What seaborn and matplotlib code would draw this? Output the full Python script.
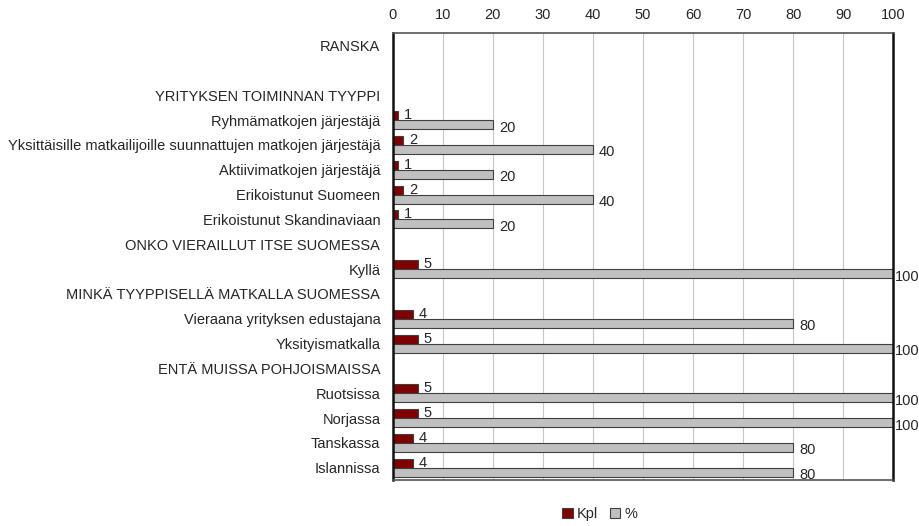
import numpy as np
import pandas as pd
import matplotlib
matplotlib.use("Agg")
import matplotlib.pyplot as plt
import seaborn as sns

categories = [
    "RANSKA", " ", "YRITYKSEN TOIMINNAN TYYPPI",
    "Ryhmämatkojen järjestäjä",
    "Yksittäisille matkailijoille suunnattujen matkojen järjestäjä",
    "Aktiivimatkojen järjestäjä", "Erikoistunut Suomeen",
    "Erikoistunut Skandinaviaan", "ONKO VIERAILLUT ITSE SUOMESSA", "Kyllä",
    "MINKÄ TYYPPISELLÄ MATKALLA SUOMESSA", "Vieraana yrityksen edustajana",
    "Yksityismatkalla", "ENTÄ MUISSA POHJOISMAISSA", "Ruotsissa", "Norjassa",
    "Tanskassa", "Islannissa",
]
kpl = [np.nan, np.nan, np.nan, 1, 2, 1, 2, 1, np.nan, 5, np.nan, 4, 5, np.nan, 5, 5, 4, 4]
pct = [np.nan, np.nan, np.nan, 20, 40, 20, 40, 20, np.nan, 100, np.nan, 80, 100, np.nan, 100, 100, 80, 80]
x_ticks = list(range(0, 101, 10))

df = pd.concat([
    pd.DataFrame({"cat": categories, "value": kpl, "series": "Kpl"}),
    pd.DataFrame({"cat": categories, "value": pct, "series": "%"}),
], ignore_index=True)

sns.set_style("white")
plt.rcParams["font.family"] = ["Liberation Sans", "DejaVu Sans"]
fs = 10.5
plt.rcParams["font.size"] = fs
txt = "#262626"

fig = plt.figure(figsize=(9.2, 5.26), dpi=100)
ax = fig.add_axes([0.427, 0.087, 0.544, 0.85])

sns.barplot(data=df, y="cat", x="value", hue="series", order=categories,
            hue_order=["Kpl", "%"], palette={"Kpl": "#800000", "%": "#C0C0C0"},
            orient="h", width=0.72, dodge=True, gap=0, saturation=1,
            edgecolor="#404040", linewidth=0.8, ax=ax, legend=True)

# number labels
for i, (k, p) in enumerate(zip(kpl, pct)):
    if not np.isnan(k):
        ax.text(k + 1.2, i - 0.2, f"{k:g}", va="center", ha="left",
                fontsize=fs, color=txt, clip_on=False)
    if not np.isnan(p):
        off = 0.3 if p >= 100 else 1.2
        ax.text(p + off, i + 0.3, f"{p:g}", va="center", ha="left",
                fontsize=fs, color=txt, clip_on=False)

ax.set_xlim(0, 100)
ax.set_ylim(len(categories) - 0.5, -0.5)
ax.set_xticks(x_ticks)
ax.xaxis.tick_top()
ax.tick_params(axis="x", length=0, pad=8, labelsize=fs, labelcolor=txt)
ax.tick_params(axis="y", length=0, pad=9, labelsize=fs, labelcolor=txt)
ax.set_xlabel("")
ax.set_ylabel("")
ax.grid(axis="x", color="#C8C8C8", linewidth=0.8)
ax.set_axisbelow(True)
for side in ["left", "right"]:
    ax.spines[side].set_color("#111111")
    ax.spines[side].set_linewidth(1.8)
for side in ["top", "bottom"]:
    ax.spines[side].set_color("#555555")
    ax.spines[side].set_linewidth(1.2)

ax.legend(loc="center", bbox_to_anchor=(0.652, 0.022),
          bbox_transform=fig.transFigure, ncol=2, frameon=False,
          handlelength=0.7, handleheight=0.7, handletextpad=0.3,
          columnspacing=0.8, fontsize=fs, labelcolor=txt)

fig.savefig("out.png", dpi=100)
